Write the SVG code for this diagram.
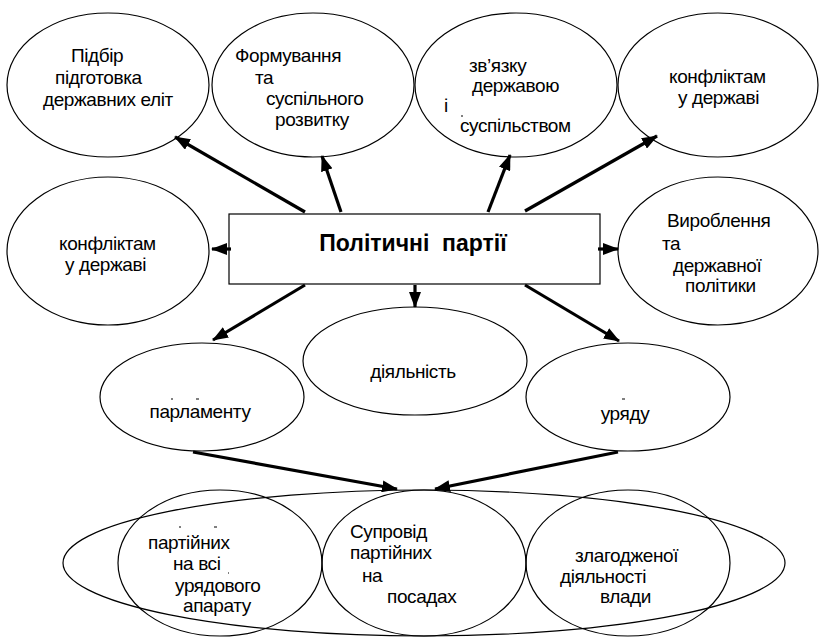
<svg xmlns="http://www.w3.org/2000/svg" width="819" height="637" viewBox="0 0 819 637">
<style>
.n{fill:#fff;stroke:#000;stroke-width:1.2}
.nb{fill:none;stroke:#000;stroke-width:1.2}
.t{font-family:"Liberation Sans",Arial,sans-serif;font-size:19px;letter-spacing:-0.4px;fill:#000}
.tt{font-family:"Liberation Sans",Arial,sans-serif;font-size:23px;font-weight:bold;fill:#000}
.c line{stroke:#000;stroke-width:3.2;marker-end:url(#ah)}
.d{stroke:#000;stroke-width:1}
</style>
<defs>
<marker id="ah" viewBox="0 0 16 12" refX="15" refY="6" markerWidth="16" markerHeight="12" markerUnits="userSpaceOnUse" orient="auto">
<path d="M0,0 L16,6 L0,12 z" fill="#000"/>
</marker>
</defs>
<rect width="819" height="637" fill="#fff"/>

<g id="n1"><ellipse class="n" cx="108" cy="85" rx="101" ry="72"/>
<text class="t"><tspan x="71" y="62">Підбір</tspan><tspan x="55" y="84">підготовка</tspan><tspan x="43" y="106">державних еліт</tspan></text></g>

<g id="n2"><ellipse class="n" cx="313" cy="85" rx="101" ry="72"/>
<text class="t"><tspan x="235" y="62">Формування</tspan><tspan x="255" y="84">та</tspan><tspan x="266" y="105">суспільного</tspan><tspan x="275" y="126">розвитку</tspan></text></g>

<g id="n3"><ellipse class="n" cx="516" cy="85" rx="101" ry="72"/>
<text class="t"><tspan x="469" y="72">зв’язку</tspan><tspan x="472" y="92">державою</tspan><tspan x="444" y="112">і</tspan><tspan x="460" y="132">суспільством</tspan></text>
<line class="d" x1="461" y1="116" x2="463" y2="116"/></g>

<g id="n4"><ellipse class="n" cx="718" cy="85" rx="100" ry="72"/>
<text class="t"><tspan x="669" y="83">конфліктам</tspan><tspan x="678" y="104">у державі</tspan></text></g>

<g id="n5"><ellipse class="n" cx="108" cy="251" rx="101" ry="74"/>
<text class="t"><tspan x="59" y="250">конфліктам</tspan><tspan x="65" y="271">у державі</tspan></text></g>

<g id="n6"><ellipse class="n" cx="718" cy="251" rx="100" ry="74"/>
<text class="t"><tspan x="667" y="227">Вироблення</tspan><tspan x="662" y="250">та</tspan><tspan x="673" y="272">державної</tspan><tspan x="685" y="292">політики</tspan></text></g>

<g id="center"><rect class="n" x="229" y="214" width="371" height="70"/>
<text class="tt" x="413" y="251" text-anchor="middle" xml:space="preserve">Політичні  партії</text></g>

<g id="n7"><ellipse class="n" cx="415" cy="361" rx="112" ry="54"/>
<text class="t" x="413" y="378" text-anchor="middle">діяльність</text></g>

<g id="n8"><ellipse class="n" cx="202" cy="397" rx="102" ry="54"/>
<text class="t" x="200" y="418" text-anchor="middle">парламенту</text>
<line class="d" x1="171" y1="399" x2="173" y2="399"/><line class="d" x1="196" y1="399" x2="199" y2="399"/></g>

<g id="n9"><ellipse class="n" cx="628" cy="397" rx="102" ry="54"/>
<text class="t" x="625" y="420" text-anchor="middle">уряду</text>
<line class="d" x1="622" y1="399" x2="625" y2="399"/></g>

<g id="n10"><ellipse class="nb" cx="424" cy="563" rx="361" ry="73"/></g>

<g id="n11"><ellipse class="nb" cx="220" cy="563" rx="102" ry="73"/>
<text class="t"><tspan x="148" y="549">партійних</tspan><tspan x="173" y="570">на всі</tspan><tspan x="175" y="592">урядового</tspan><tspan x="183" y="612">апарату</tspan></text>
<line class="d" x1="179" y1="527" x2="181" y2="527"/><line class="d" x1="214" y1="527" x2="217" y2="527"/><line class="d" x1="228" y1="573" x2="229" y2="573"/></g>

<g id="n12"><ellipse class="nb" cx="424" cy="563" rx="102" ry="73"/>
<text class="t"><tspan x="350" y="538">Супровід</tspan><tspan x="350" y="559">партійних</tspan><tspan x="362" y="582">на</tspan><tspan x="387" y="603">посадах</tspan></text></g>

<g id="n13"><ellipse class="nb" cx="628" cy="563" rx="102" ry="73"/>
<text class="t"><tspan x="575" y="562">злагодженої</tspan><tspan x="560" y="583">діяльності</tspan><tspan x="600" y="603">влади</tspan></text></g>

<g id="connectors" class="c">
<line x1="305" y1="212" x2="175" y2="137"/>
<line x1="341" y1="212" x2="322" y2="156"/>
<line x1="488" y1="212" x2="510" y2="155"/>
<line x1="525" y1="211" x2="657" y2="136"/>
<line x1="231" y1="249" x2="212" y2="249"/>
<line x1="598" y1="249" x2="618" y2="249"/>
<line x1="415" y1="285" x2="415" y2="307"/>
<line x1="305" y1="285" x2="213" y2="340"/>
<line x1="525" y1="285" x2="619" y2="341"/>
<line x1="193" y1="452" x2="397" y2="489"/>
<line x1="618" y1="452" x2="435" y2="489"/>
</g>
</svg>
